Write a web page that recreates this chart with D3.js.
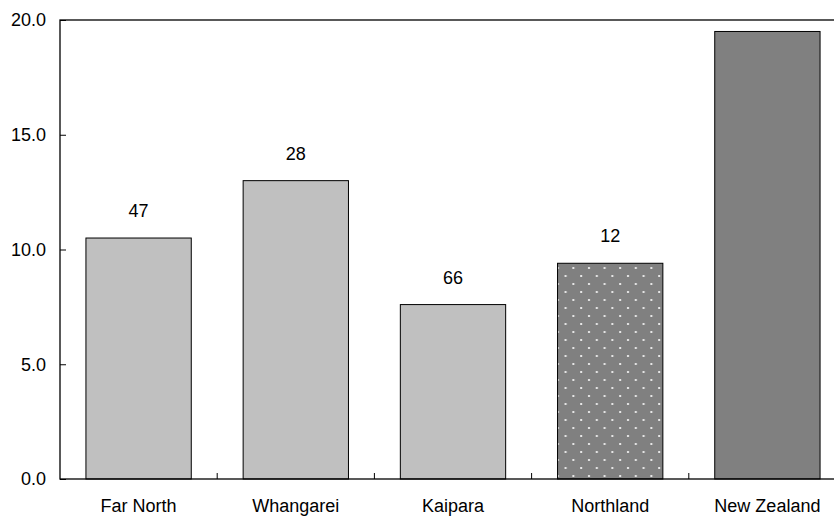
<!DOCTYPE html>
<html>
<head>
<meta charset="utf-8">
<script src="https://cdn.jsdelivr.net/npm/d3@7"></script>
<style>
  body { margin: 0; background: #fff; }
  svg text { font-family: "Liberation Sans", Arial, sans-serif; font-size: 18px; fill: #000; }
</style>
</head>
<body>
<div id="chart"></div>
<script>
// data
const regions = ["Far North", "Whangarei", "Kaipara", "Northland", "New Zealand"];
const values = [10.5, 13.0, 7.6, 9.4, 19.5];
const barLabels = ["47", "28", "66", "12", ""];
const yTicks = [0, 5, 10, 15, 20];

const width = 834, height = 516;
const plotLeft = 60, plotTop = 20, plotBottom = 479, plotRight = 846;

const svg = d3.select("#chart").append("svg")
    .attr("width", width)
    .attr("height", height);

// dotted fill for Northland
const defs = svg.append("defs");
const pat = defs.append("pattern")
    .attr("id", "dots")
    .attr("patternUnits", "userSpaceOnUse")
    .attr("width", 15.6)
    .attr("height", 16);
pat.append("rect").attr("width", 15.6).attr("height", 16).attr("fill", "#808080");
pat.append("rect").attr("x", 3).attr("y", 3).attr("width", 2).attr("height", 2).attr("fill", "#e8e8e8");
pat.append("rect").attr("x", 10.8).attr("y", 11).attr("width", 2).attr("height", 2).attr("fill", "#e8e8e8");

const x = d3.scaleBand()
    .domain(regions)
    .range([plotLeft, plotRight])
    .paddingInner(0.33)
    .paddingOuter(0.165);

const y = d3.scaleLinear()
    .domain([0, 20])
    .range([plotBottom, plotTop]);

const fills = ["#c0c0c0", "#c0c0c0", "#c0c0c0", "url(#dots)", "#808080"];

// bars
svg.selectAll("rect.bar")
    .data(values)
    .join("rect")
    .attr("class", "bar")
    .attr("x", (d, i) => x(regions[i]))
    .attr("y", d => y(d))
    .attr("width", x.bandwidth())
    .attr("height", d => plotBottom - y(d))
    .attr("fill", (d, i) => fills[i])
    .attr("stroke", "#000")
    .attr("stroke-width", 1);

// labels above bars
svg.selectAll("text.lbl")
    .data(values)
    .join("text")
    .attr("class", "lbl")
    .attr("x", (d, i) => x(regions[i]) + x.bandwidth() / 2)
    .attr("y", d => y(d) - 21)
    .attr("text-anchor", "middle")
    .text((d, i) => barLabels[i]);

// frame
svg.append("rect")
    .attr("x", plotLeft)
    .attr("y", plotTop)
    .attr("width", plotRight - plotLeft)
    .attr("height", plotBottom - plotTop)
    .attr("fill", "none")
    .attr("stroke", "#000")
    .attr("stroke-width", 1.3);

// y axis, ticks pointing inward
const yAxis = svg.append("g")
    .attr("transform", `translate(${plotLeft},0)`)
    .call(d3.axisLeft(y).tickValues(yTicks).tickSize(-6).tickPadding(14).tickFormat(d3.format(".1f")));
yAxis.select(".domain").remove();
yAxis.selectAll("text").style("font-size", "18px").attr("fill", "#000");

// x axis: ticks at category boundaries, labels under bars
const step = x.step();
const boundaries = regions.slice(1).map(r => x(r) - step * x.paddingInner() / 2);
svg.selectAll("line.xt")
    .data(boundaries)
    .join("line")
    .attr("class", "xt")
    .attr("x1", d => d).attr("x2", d => d)
    .attr("y1", plotBottom).attr("y2", plotBottom - 6)
    .attr("stroke", "#000");

svg.selectAll("text.xl")
    .data(regions)
    .join("text")
    .attr("class", "xl")
    .attr("x", d => x(d) + x.bandwidth() / 2)
    .attr("y", 512)
    .attr("text-anchor", "middle")
    .text(d => d);
</script>
</body>
</html>
